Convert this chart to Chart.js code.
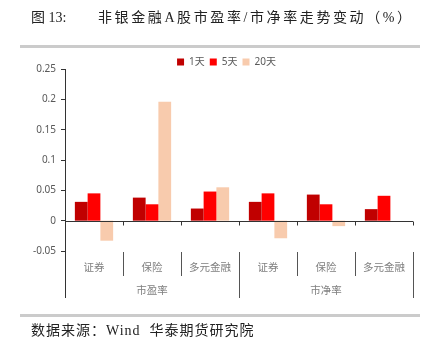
<!DOCTYPE html>
<html>
<head>
<meta charset="utf-8">
<script src="https://cdn.jsdelivr.net/npm/chart.js@4"></script>
<style>
  body { margin: 0; background: #fff; }
  #wrap { position: relative; width: 434px; height: 353px; overflow: hidden; }
  #c { position: absolute; left: 0; top: 0; }
  .txt { position: absolute; font-family: "Liberation Serif", "Noto Sans CJK SC", serif; color: #222; white-space: nowrap; }
  .bar { position: absolute; left: 20px; width: 400px; height: 3px; background: #cbcbcb; }
</style>
</head>
<body>
<div id="wrap">
  <canvas id="c" width="434" height="353"></canvas>
  <div class="txt" style="left:31px; top:8px; font-size:14px; line-height:20px;">图 13:</div>
  <div class="txt" style="left:98px; top:8px; font-size:14px; line-height:20px; letter-spacing:2.6px;">非银金融A股市盈率/市净率走势变动（%）</div>
  <div class="bar" style="top:45px;"></div>
  <div class="bar" style="top:314px;"></div>
  <div class="txt" style="left:31px; top:321px; font-size:14px; line-height:20px; letter-spacing:1px;">数据来源：Wind&nbsp; 华泰期货研究院</div>
</div>
<script>
// data
var categories = ['证券', '保险', '多元金融', '证券', '保险', '多元金融'];
var groups = ['市盈率', '市净率'];
var seriesNames = ['1天', '5天', '20天'];
var day1 = [0.031, 0.038, 0.020, 0.031, 0.043, 0.019];
var day5 = [0.045, 0.027, 0.048, 0.045, 0.027, 0.041];
var day20 = [-0.033, 0.196, 0.055, -0.029, -0.009, 0];
var yMin = -0.05, yMax = 0.25, yStep = 0.05;

var axisColor = '#333333';
var fontFam = '"Noto Sans", "Noto Sans CJK SC", sans-serif';

// category labels, separators and zero line
var axisPlugin = {
    id: 'axisPlugin',
    beforeLayout: function (chart) {
        var lg = chart.legend;
        if (lg && !lg._patched) {
            var orig = lg.fit;
            lg.fit = function () { orig.call(this); this.height = 17; };
            lg._patched = true;
        }
    },
    afterLayout: function (chart) {
        // legend sits a bit right of the canvas centre
        if (chart.legend) {
            chart.legend.left += 10;
            chart.legend.right += 10;
        }
    },
    afterDraw: function (chart) {
        var ctx = chart.ctx;
        var x = chart.scales.x, y = chart.scales.y;
        var n = categories.length;
        var w = (x.right - x.left) / n;
        var y0 = Math.round(y.getPixelForValue(0)) + 0.5;
        var yb = Math.round(y.getPixelForValue(yMin));
        ctx.save();
        ctx.strokeStyle = axisColor;
        ctx.lineWidth = 1;
        ctx.beginPath();
        ctx.moveTo(x.left, y0);
        ctx.lineTo(x.right, y0);
        for (var i = 0; i <= n; i++) {
            var bx = Math.round(x.left + i * w) + 0.5;
            ctx.moveTo(bx, y0);
            ctx.lineTo(bx, y0 + 4);
        }
        // y axis down through the label area
        var ax = Math.round(x.left) + 0.5;
        ctx.moveTo(ax, chart.chartArea.bottom);
        ctx.lineTo(ax, yb + 47);
        ctx.stroke();

        ctx.strokeStyle = '#555555';
        ctx.beginPath();
        for (var j = 1; j <= n; j++) {
            var sx = Math.round(x.left + j * w) + 0.5;
            var grp = (j % 3 === 0);
            ctx.moveTo(sx, yb + 1);
            ctx.lineTo(sx, grp ? yb + 47 : yb + 25);
        }
        ctx.stroke();

        ctx.fillStyle = '#7f7f7f';
        ctx.font = '10.5px ' + fontFam;
        ctx.textAlign = 'center';
        ctx.textBaseline = 'middle';
        for (var k = 0; k < n; k++) {
            ctx.fillText(categories[k], x.getPixelForValue(k), yb + 17);
        }
        for (var g = 0; g < groups.length; g++) {
            var cx = x.left + (g * 3 + 1.5) * w;
            ctx.fillText(groups[g], cx, yb + 40);
        }
        ctx.restore();
    }
};

var ctx = document.getElementById('c');
var chart = new Chart(ctx, {
    type: 'bar',
    data: {
        labels: categories,
        datasets: [
            { label: seriesNames[0], data: day1, backgroundColor: '#C00000' },
            { label: seriesNames[1], data: day5, backgroundColor: '#FF0000' },
            { label: seriesNames[2], data: day20, backgroundColor: '#F8CBAD' }
        ]
    },
    options: {
        responsive: false,
        animation: false,
        devicePixelRatio: 1,
        layout: { padding: { left: 20, right: 21, top: 52, bottom: 102 } },
        datasets: { bar: { categoryPercentage: 0.66, barPercentage: 1.0 } },
        plugins: {
            legend: {
                position: 'top',
                labels: {
                    boxWidth: 7, boxHeight: 7, padding: 5,
                    color: '#595959',
                    font: { family: fontFam, size: 10 }
                }
            },
            tooltip: { enabled: false }
        },
        scales: {
            x: { display: false },
            y: {
                min: yMin, max: yMax,
                afterFit: function (s) { s.width = 45; },
                ticks: {
                    stepSize: yStep,
                    color: '#595959',
                    padding: 5,
                    font: { family: fontFam, size: 10 },
                    callback: function (v) { return String(+v.toFixed(2)); }
                },
                grid: { drawOnChartArea: false, tickLength: 4, color: axisColor },
                border: { color: axisColor }
            }
        }
    },
    plugins: [axisPlugin]
});
</script>
</body>
</html>
